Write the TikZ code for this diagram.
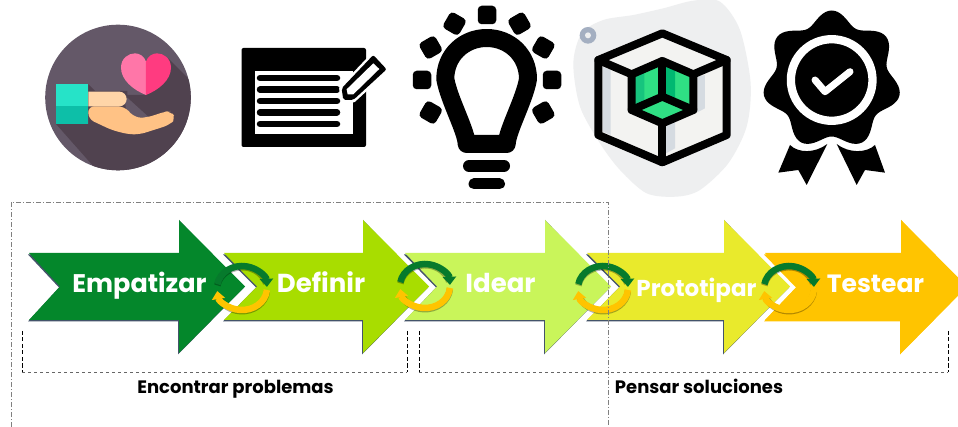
\documentclass[tikz,border=0pt]{standalone}
\usepackage{fontspec}
\setmainfont{Poppins}
\usetikzlibrary{arrows.meta}
\definecolor{stepA}{HTML}{04872B}
\definecolor{stepB}{HTML}{A8DD00}
\definecolor{stepC}{HTML}{C9F55A}
\definecolor{stepD}{HTML}{E9EA2C}
\definecolor{stepE}{HTML}{FFC400}
\definecolor{cyclegreen}{HTML}{067A2C}
\definecolor{arrowshade}{HTML}{44546A}
\definecolor{disc}{HTML}{645868}
\definecolor{discdark}{HTML}{50424F}
\definecolor{heartA}{HTML}{FF76A8}
\definecolor{heartB}{HTML}{FF3B80}
\definecolor{palm}{HTML}{FFC285}
\definecolor{finger}{HTML}{FFD5A8}
\definecolor{cuffA}{HTML}{26E3C8}
\definecolor{cuffB}{HTML}{0DBFA8}
\definecolor{cubeface}{HTML}{F3F3F1}
\definecolor{cubeshade}{HTML}{D5DBE1}
\definecolor{cubegreenA}{HTML}{2FDF84}
\definecolor{cubegreenB}{HTML}{17C47E}
\definecolor{cubegreenC}{HTML}{00B871}
\definecolor{blob}{HTML}{EEEFF0}
\definecolor{blobring}{HTML}{A4AFC1}

\begin{document}
\begin{tikzpicture}[x=1pt,y=-1pt,line cap=butt,
      zoomed/.style={x=0.3333pt,y=-0.3333pt},
      word/.style={anchor=base,text=white,font=\fontsize{#1}{#1}\selectfont\bfseries,inner sep=0pt},
      caption/.style={anchor=base,text=black,font=\fontsize{18}{18}\selectfont\bfseries,inner sep=0pt},
      raybox/.style={fill=black,rounded corners=4pt,minimum size=18.5pt,inner sep=0pt},
      cubeline/.style={line width=8pt,line join=round,line cap=round},
      cycshadow/.style={draw=black,opacity=.3,line width=6.5pt},
      cycgreen/.style={draw=cyclegreen,line width=6.5pt,-{Triangle[length=8pt,width=13pt]}},
      cycyellow/.style={draw=stepE,line width=6.5pt,-{Triangle[length=8pt,width=13pt]}}]
    \useasboundingbox (0,0) rectangle (958,427);
    \clip (0,0) rectangle (958,427);
    \fill[white] (0,0) rectangle (958,427);

    % hand and heart
    \fill[disc] (118,97.5) circle[radius=72.8];
    \begin{scope}
      \clip (118,97.5) circle[radius=72.8];
      \begin{scope}[shift={(50,45)},zoomed]
        \fill[discdark] (355,40) -- (430,115) -- (430,380) -- (140,375) -- (18,237) -- (115,237)
          -- (115,118) -- (135,138) -- (232,138) -- (232,150) -- (290,150) -- cycle;
        \fill[disc] (225,172) -- (232,158) -- (298,218) -- (250,218) -- (228,190) -- cycle;
      \end{scope}
    \end{scope}
    \begin{scope}[shift={(50,45)},zoomed]
      \fill[heartA] (288,150) .. controls (250,135) and (213,105) .. (213,68)
        .. controls (213,40) and (235,25) .. (255,25) .. controls (270,25) and (283,35) .. (288,50) -- cycle;
      \fill[heartB] (288,150) .. controls (326,135) and (363,105) .. (363,68)
        .. controls (363,40) and (341,25) .. (321,25) .. controls (306,25) and (293,35) .. (288,50) -- cycle;
      \fill[palm,rounded corners=6pt] (115,184) -- (222,184) -- (255,218) -- (290,218) -- (345,200)
        -- (362,198) -- (378,220) -- (358,240) -- (270,268) -- (235,268) -- (185,255) -- (115,222) -- cycle;
      \fill[finger] (115,140) -- (208,140) arc[start angle=-90,end angle=90,radius=22] -- (115,184) -- cycle;
      \fill[cuffA] (18,116) rectangle (115,182);
      \fill[cuffB] (18,182) rectangle (115,237);
    \end{scope}

    % sheet and pencil
    \fill[black,rounded corners=2pt] (241.5,48) rectangle (366,147);
    \fill[white] (255,71) rectangle (353,134);
    \foreach \yy in {78,89.7,101,112.3,124}
      \draw[line width=6.5pt,line cap=round] (260,\yy) -- (337,\yy);
    \begin{scope}[zoomed]
      \draw[white,line width=5pt,line join=round] (1120,165) -- (1160,208) -- (1060,300) -- (1030,300) -- (1025,265) -- cycle;
      \fill[black,rounded corners=2pt] (1120,165) -- (1160,208) -- (1060,300) -- (1030,300) -- (1025,265) -- cycle;
      \fill[white] (1120,190) -- (1138,207) -- (1060,283) -- (1043,283) -- (1040,268) -- cycle;
    \end{scope}

    % bulb
    \foreach \ang in {-90,-60,-120,-30,-150,0,180,30,150}
      \node (ray\ang) [raybox,rotate=\ang] at ([shift={(\ang:65)}]487,80) {};
    \draw[line width=18pt,line join=round] (466.7,144) .. controls (466,130) and (449,100) .. (445.3,79)
      .. controls (445.3,55) and (464,38) .. (486.7,38) .. controls (509.4,38) and (528,55) .. (528,79)
      .. controls (524.4,100) and (507.4,130) .. (506.7,144) -- cycle;
    \draw[line width=12pt,line cap=round] (469,166) -- (504,166);
    \draw[line width=11pt,line cap=round] (474,184) -- (499.5,184);

    % cube on its blob
    \begin{scope}[shift={(400,0)},zoomed]
      \fill[blob] plot[smooth cycle] coordinates {(520,190) (545,100) (610,60) (700,45) (790,25) (880,2)
        (960,5) (1020,90) (1052,250) (1040,380) (985,490) (900,570) (830,590) (740,580) (660,510) (600,430) (540,320)};
      \fill[blobring] (564,106) circle[radius=25];
      \fill[blob] (564,106) circle[radius=9];
    \end{scope}
    \begin{scope}[shift={(590,25)},zoomed]
      \fill[cubeface] (217,25) -- (410,105) -- (410,330) -- (217,412) -- (25,330) -- (25,105) -- cycle;
      \fill[cubeshade] (38,125) -- (62,135) -- (62,330) -- (38,320) -- cycle;
      \fill[cubeshade] (322,155) -- (345,150) -- (345,250) -- (322,262) -- cycle;
      \fill[cubeshade] (228,300) -- (255,290) -- (255,370) -- (228,385) -- cycle;
      \fill[cubegreenA] (125,148) -- (217,108) -- (310,148) -- (310,255) -- (217,295) -- (125,255) -- cycle;
      \fill[cubegreenB] (125,148) -- (163,132) -- (163,238) -- (125,255) -- cycle;
      \fill[cubegreenC] (217,108) -- (255,125) -- (255,232) -- (217,215) -- cycle;
      \draw[cubeline] (217,25) -- (410,105) -- (410,330) -- (217,412) -- (25,330) -- (25,105) -- cycle;
      \draw[cubeline] (25,105) -- (125,148) -- (125,255) -- (217,295) -- (310,255) -- (310,148) -- (410,105);
      \draw[cubeline] (125,148) -- (217,108) -- (310,148);
      \draw[cubeline] (217,295) -- (217,412);
      \draw[cubeline] (125,255) -- (217,215) -- (310,255);
      \draw[cubeline] (217,108) -- (217,215);
    \end{scope}

    % badge
    \fill[domain=0:360,samples=141,smooth] plot ({831.7+(63+6.5*cos(7*(\x-90)))*cos(\x)},{80-(63+6.5*cos(7*(\x-90)))*sin(\x)}) -- cycle;
    \draw[white,line width=8.3pt] (831.7,80) circle[radius=40.8];
    \draw[white,line width=7pt,line cap=round,line join=round] (815,80) -- (825,91.7) -- (850,71.7);
    \begin{scope}[shift={(740,0)},zoomed]
      \fill (150,435) .. controls (175,460) and (225,460) .. (262,432) -- (200,555) -- (175,510) -- (115,518) -- cycle;
      \fill (405,435) .. controls (380,460) and (325,460) .. (290,432) -- (350,555) -- (375,510) -- (435,518) -- cycle;
    \end{scope}

    % process arrows
    \foreach \xa/\xn/\xh/\xt/\col/\shd in {29/60/179/245/stepA/arrowshade,224/257/363/429/stepB/arrowshade,
        405/437/545/611/stepC/arrowshade,587/620/724/790/stepD/arrowshade,765/797/901/967/stepE/stepE} {
      \fill[\shd] (\xa-1,254.5) -- (\xn-1,287.5) -- (\xa-1,321.5) -- (\xh-1,321.5) -- (\xh-1,354.5) -- (\xt-1,287.5) -- (\xh,220) -- (\xh,253) -- cycle;
      \fill[\col] (\xa,253) -- (\xh,253) -- (\xh,220) -- (\xt,286.5) -- (\xh,353) -- (\xh,320) -- (\xa,320) -- (\xn,286.5) -- cycle;
    }
    \foreach \wx/\wy/\wsize/\wtxt in {139.5/293/25.5/Empatizar,321/293/26/Definir,500.5/293/26/Idear,696.5/297/23/Prototipar,875.5/293/25/Testear}
      \node (\wtxt) [word=\wsize] at (\wx,\wy) {\wtxt};

    % cycle marks
    \foreach \cx/\cy in {242/288,425/286,603/288,789/288} {
      \draw[cycshadow] (\cx,\cy+1.2) ++(5:25 and 22) arc[start angle=5,end angle=160,x radius=25,y radius=22];
      \draw[cycshadow] (\cx,\cy+1.2) ++(190:25 and 22) arc[start angle=190,end angle=345,x radius=25,y radius=22];
      \draw[cycyellow] (\cx,\cy) ++(5:25 and 22) arc[start angle=5,end angle=172,x radius=25,y radius=22];
      \draw[cycgreen] (\cx,\cy) ++(190:25 and 22) arc[start angle=190,end angle=357,x radius=25,y radius=22];
    }

    % frames
    \draw[black!50,line width=.6pt,dash pattern=on 5pt off 2pt on 1pt off 2pt] (11,427) -- (11,202) -- (608,202) -- (608,427);
    \draw[black!60,line width=.7pt,dashed] (22,372) -- (407,372);
    \draw[black!60,line width=.7pt,dashed] (419,372) -- (948,372);
    \foreach \vx in {22,407,419,948}
      \draw[black,line width=.7pt,dash pattern=on 4pt off 2.5pt] (\vx,331) -- (\vx,372);
    \node (encontrar) [caption] at (235.5,393) {Encontrar problemas};
    \node (pensar) [caption] at (699,393) {Pensar soluciones};
\end{tikzpicture}
\end{document}
